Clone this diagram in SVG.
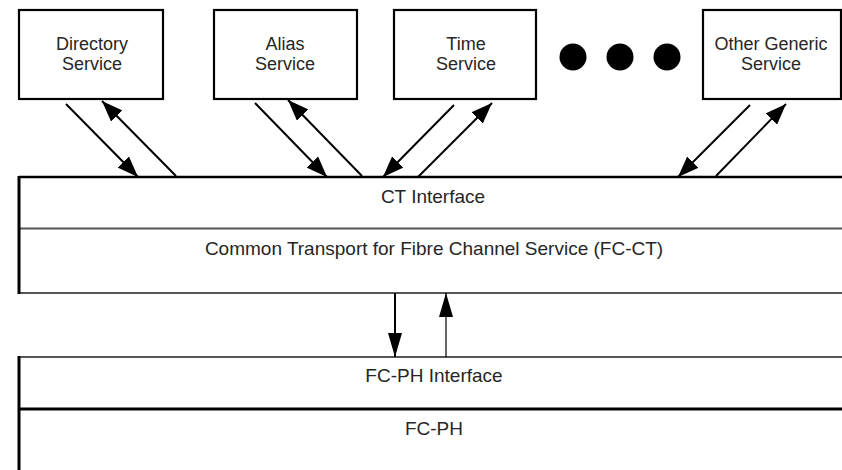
<svg xmlns="http://www.w3.org/2000/svg" width="842" height="470" viewBox="0 0 842 470">
<defs>
<marker id="ah" markerUnits="userSpaceOnUse" markerWidth="22" markerHeight="16" refX="21" refY="8" orient="auto">
<path d="M0,0 L21,8 L0,16 Z" fill="#000"/>
</marker>
<marker id="ahs" markerUnits="userSpaceOnUse" markerWidth="25" markerHeight="14" refX="24" refY="7" orient="auto">
<path d="M0,0 L24,7 L0,14 Z" fill="#000"/>
</marker>
<style>
.box{fill:#fff;stroke:#000;stroke-width:2.2}
.t{font-family:"Liberation Sans",Arial,sans-serif;font-size:19px;fill:#262626;text-anchor:middle}
.s{font-size:18px}
.c{stroke:#000;stroke-width:2;fill:none;marker-end:url(#ah)}
.g{stroke:#555;fill:none}
</style>
</defs>
<rect width="842" height="470" fill="#fff"/>
<g id="directory"><rect class="box" x="19" y="10" width="144" height="89"/><text class="t s" x="92" y="49.5">Directory</text><text class="t s" x="92" y="69.5">Service</text></g>
<g id="alias"><rect class="box" x="214" y="10" width="143" height="89"/><text class="t s" x="285" y="49.5">Alias</text><text class="t s" x="285" y="69.5">Service</text></g>
<g id="time"><rect class="box" x="394" y="10" width="142" height="89"/><text class="t s" x="466" y="49.5">Time</text><text class="t s" x="466" y="69.5">Service</text></g>
<g id="ellipsis"><circle cx="573" cy="57" r="13.5"/><circle cx="620" cy="57" r="13.5"/><circle cx="667" cy="57" r="13.5"/></g>
<g id="other"><rect class="box" x="703" y="10" width="138" height="89"/><text class="t s" x="771" y="49.5">Other Generic</text><text class="t s" x="771" y="69.5">Service</text></g>
<g id="fcct">
<path d="M19,177 H842" stroke="#000" stroke-width="2.5"/>
<path class="g" d="M19,228.5 H842" stroke-width="1.8"/>
<path class="g" d="M19,293 H842" stroke-width="2.2"/>
<path d="M19,176 V294" stroke="#000" stroke-width="3"/>
<text class="t" x="433" y="203">CT Interface</text>
<text class="t" x="434" y="255">Common Transport for Fibre Channel Service (FC-CT)</text>
</g>
<g id="fcph">
<path class="g" d="M19,357 H842" stroke-width="2.2"/>
<path d="M19,409 H842" stroke="#000" stroke-width="3"/>
<path d="M19,356 V470" stroke="#000" stroke-width="3"/>
<text class="t" x="434" y="382">FC-PH Interface</text>
<text class="t" x="434" y="435">FC-PH</text>
</g>
<g id="connectors">
<path class="c" d="M66,104 L138,177"/>
<path class="c" d="M176,176 L102,101"/>
<path class="c" d="M255,103 L327,177"/>
<path class="c" d="M362,176 L288,100"/>
<path class="c" d="M454,105 L383,177"/>
<path class="c" d="M418,177 L492,103"/>
<path class="c" d="M750,105 L678,177"/>
<path class="c" d="M716,176 L786,104"/>
<path d="M395,293 V357" stroke="#000" stroke-width="2" marker-end="url(#ahs)"/>
<path d="M446,357 V293" stroke="#000" stroke-width="1.2" marker-end="url(#ahs)"/>
</g>
</svg>
